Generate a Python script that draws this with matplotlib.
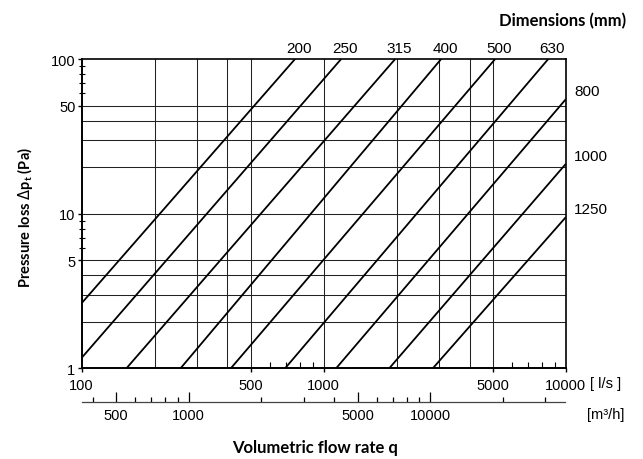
import matplotlib
matplotlib.use("Agg")
import matplotlib.pyplot as plt
from matplotlib.ticker import FixedLocator, NullFormatter

## Data ##
sizes = [200, 250, 315, 400, 500, 630, 800, 1000, 1250]
q_start = [100, 100, 153, 256, 413, 692, 1124, 1863, 2820]
p_start = [2.64, 1.17, 1, 1, 1, 1, 1, 1, 1]
q_end = [761, 1180, 1973, 3055, 5106, 8460, 10000, 10000, 10000]
p_end = [100, 100, 100, 100, 100, 100, 55, 21, 9.5]

grid_q = [200, 300, 400, 500, 1000, 2000, 3000, 4000, 5000]
grid_p = [2, 3, 4, 5, 10, 20, 30, 40, 50]

q_ticks = [100, 500, 1000, 5000, 10000]
q_minor = [600, 700, 800, 900, 6000, 7000, 8000, 9000]
p_ticks = [1, 5, 10, 50, 100]
p_minor = [6, 7, 8, 9, 60, 70, 80, 90]

m3h_ticks = [500, 1000, 5000, 10000]
m3h_minor = [400, 600, 700, 800, 900, 2000, 3000, 4000,
             6000, 7000, 8000, 9000, 20000, 30000]

plt.rcParams['font.family'] = ['Liberation Sans', 'DejaVu Sans']
plt.rcParams['font.size'] = 10
bold = ['Lato', 'DejaVu Sans']

fig = plt.figure(figsize=(6.43, 4.60), dpi=100)
ax = fig.add_axes([0.127, 0.197, 0.753, 0.6725])
ax.set_xscale('log')
ax.set_yscale('log')
ax.set_xlim(100, 10000)
ax.set_ylim(1, 100)

## grid ##
for q in grid_q:
    ax.axvline(q, color='#222222', lw=0.75, zorder=1)
for p in grid_p:
    ax.axhline(p, color='#222222', lw=0.75, zorder=1)

## duct lines ##
for i in range(len(sizes)):
    ax.plot([q_start[i], q_end[i]], [p_start[i], p_end[i]],
            color='black', lw=1.3, solid_capstyle='butt', zorder=2)
    if p_end[i] >= 100:
        ax.annotate(str(sizes[i]), xy=(q_end[i], 100), xytext=(3, 5),
                    textcoords='offset points', ha='center', va='baseline',
                    fontsize=11)
    else:
        ax.annotate(str(sizes[i]), xy=(10000, p_end[i]), xytext=(6, 6),
                    textcoords='offset points', ha='left', va='center',
                    fontsize=11)

## axes ticks ##
ax.xaxis.set_major_locator(FixedLocator(q_ticks))
ax.xaxis.set_minor_locator(FixedLocator(q_minor))
ax.set_xticklabels([str(v) for v in q_ticks])
ax.xaxis.set_minor_formatter(NullFormatter())
ax.yaxis.set_major_locator(FixedLocator(p_ticks))
ax.yaxis.set_minor_locator(FixedLocator(p_minor))
ax.set_yticklabels([str(v) for v in p_ticks])
ax.yaxis.set_minor_formatter(NullFormatter())

ax.tick_params(axis='x', which='major', direction='out', length=3, width=1, pad=4, labelsize=10.5)
ax.tick_params(axis='x', which='minor', direction='in', length=4, width=0.8)
ax.tick_params(axis='y', which='major', direction='out', length=3, width=1, pad=1.5, labelsize=10.5)
ax.tick_params(axis='y', which='minor', direction='inout', length=4, width=0.8)

for s in ['left', 'bottom']:
    ax.spines[s].set_linewidth(1.4)
for s in ['top', 'right']:
    ax.spines[s].set_linewidth(1.2)

fig.text(590 / 643, 1 - 384 / 460, "[ l/s ]", ha='left', va='center', fontsize=10.5)

## second axis in m3/h ##
ax2 = fig.add_axes([0.127, 1 - 403.3 / 460, 0.751, 0.0001])
ax2.set_xscale('log')
ax2.set_xlim(100 * 3.6, 10000 * 3.6)
ax2.set_yticks([])
for s in ['left', 'right', 'top']:
    ax2.spines[s].set_visible(False)
ax2.spines['bottom'].set_linewidth(0.9)
ax2.spines['bottom'].set_color('#444444')
ax2.xaxis.set_major_locator(FixedLocator(m3h_ticks))
ax2.xaxis.set_minor_locator(FixedLocator(m3h_minor))
ax2.set_xticklabels([str(v) for v in m3h_ticks])
ax2.xaxis.set_minor_formatter(NullFormatter())
ax2.tick_params(axis='x', which='major', direction='in', length=7, width=0.9, pad=4, labelsize=10.5)
ax2.tick_params(axis='x', which='minor', direction='in', length=3.5, width=0.9)
ax2.patch.set_visible(False)

fig.text(587 / 643, 1 - 415 / 460, "[m³/h]", ha='left', va='center', fontsize=10.5)

## titles ##
fig.text(626 / 643, 1 - 21 / 460, "Dimensions (mm)", ha='right', va='center',
         fontsize=12, fontweight='bold', family=bold)
fig.text(314.7 / 643, 1 - 448 / 460, "Volumetric flow rate q", ha='center', va='center',
         fontsize=12, fontweight='bold', family=bold)
fig.text(25 / 643, 1 - 218 / 460, r"Pressure loss $\Delta$p$_\mathregular{t}$ (Pa)",
         ha='center', va='center', rotation=90,
         fontsize=10.5, fontweight='bold', family=bold)

fig.savefig("out.png", dpi=100)
